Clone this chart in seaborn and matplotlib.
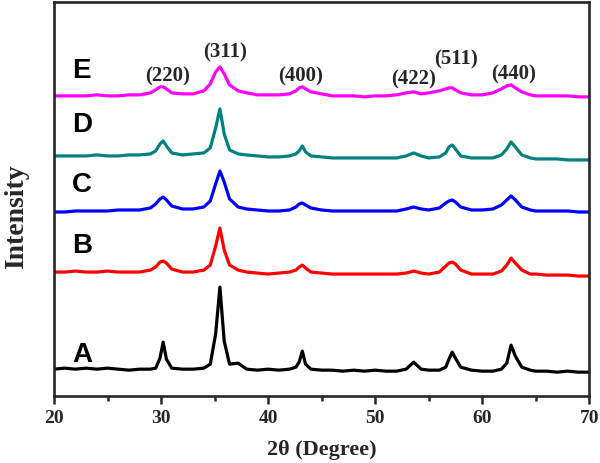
import pandas as pd
import seaborn as sns
import matplotlib.pyplot as plt
import numpy as np
from matplotlib.ticker import MultipleLocator

## 2theta positions (denser around the peaks) ##
theta = [20, 21, 22, 23, 24, 25, 26, 27, 28, 29, 29.5, 29.9, 30.2, 30.5, 31.0,
         32, 33, 34, 34.6, 35.1, 35.5, 35.9, 36.4, 37.2, 38, 39, 40, 41, 42,
         42.6, 42.9, 43.2, 43.5, 44, 45, 46, 47, 48, 49, 50, 51, 52, 52.9, 53.6,
         54.3, 55, 56, 56.6, 56.9, 57.2, 57.5, 58, 59, 60, 61, 61.8, 62.3, 62.7,
         63.1, 63.7, 64.5, 65, 66, 67, 68, 69, 70]

## intensities (a.u., already stacked with offsets) ##
int_A = [27, 28, 27, 28, 27, 28, 27, 26, 27, 27, 28, 38, 54, 37, 28,
         27, 27, 28, 32, 62, 109, 55, 32, 33, 27, 26, 27, 26, 27,
         29, 34, 45, 32, 27, 26, 26, 25, 26, 25, 26, 25, 25, 27, 34,
         27, 26, 26, 29, 37, 44, 38, 29, 26, 25, 25, 27, 33, 51,
         40, 29, 26, 25, 25, 24, 25, 24, 24]
int_B = [124, 124, 125, 124, 124, 125, 124, 124, 124, 126, 129, 134, 135, 133, 127,
         124, 124, 126, 131, 150, 168, 146, 131, 126, 124, 123, 122, 123, 124,
         126, 129, 131, 128, 124, 123, 122, 122, 122, 122, 122, 122, 122, 123, 125,
         123, 122, 124, 130, 133, 134, 132, 126, 122, 122, 122, 125, 131, 138,
         133, 126, 122, 122, 121, 121, 121, 120, 120]
int_C = [184, 184, 185, 185, 185, 185, 186, 186, 186, 188, 192, 197, 199, 196, 190,
         187, 187, 189, 195, 212, 225, 214, 197, 189, 187, 186, 185, 185, 186,
         189, 192, 193, 191, 188, 186, 185, 185, 185, 185, 185, 185, 185, 187, 189,
         187, 186, 188, 193, 195, 196, 194, 189, 186, 186, 187, 191, 196, 200,
         196, 189, 186, 185, 185, 185, 185, 184, 184]
int_D = [240, 240, 240, 240, 241, 240, 240, 241, 241, 242, 245, 252, 255, 250, 243,
         241, 242, 243, 248, 268, 287, 262, 246, 242, 241, 240, 239, 239, 240,
         242, 245, 250, 244, 240, 239, 238, 238, 238, 238, 238, 238, 238, 240, 243,
         240, 238, 239, 243, 249, 251, 247, 240, 238, 238, 238, 241, 247, 254,
         249, 241, 238, 237, 237, 237, 236, 236, 236]
int_E = [300, 300, 300, 300, 301, 300, 300, 301, 301, 303, 306, 309, 309, 307, 303,
         302, 302, 305, 312, 324, 329, 322, 311, 305, 303, 301, 301, 301, 302,
         305, 308, 309, 307, 304, 302, 300, 300, 300, 299, 300, 300, 301, 303, 304,
         302, 303, 305, 307, 308, 308, 306, 303, 301, 301, 303, 307, 310, 311,
         308, 304, 301, 300, 300, 300, 300, 299, 299]

samples = ["A", "B", "C", "D", "E"]
colors = ["black", "#ff0000", "#0000ff", "#008080", "#ff00ff"]
label_y = [42, 151, 212, 272, 326]

hkl = ["(220)", "(311)", "(400)", "(422)", "(511)", "(440)"]
hkl_x = [30.65, 36.0, 43.0, 53.6, 57.6, 62.9]
hkl_y = [320, 344, 320, 317, 337, 322]

df = pd.DataFrame({
    "theta": theta * 5,
    "intensity": int_A + int_B + int_C + int_D + int_E,
    "sample": np.repeat(samples, len(theta)),
})

sns.set_style("ticks")
plt.rcParams["font.family"] = ["Liberation Serif", "DejaVu Serif"]

fig = plt.figure(figsize=(6, 4.64), dpi=100)
ax = fig.add_axes([0.09, 0.144, 0.892, 0.85])

sns.lineplot(data=df, x="theta", y="intensity", hue="sample",
             palette=dict(zip(samples, colors)), linewidth=2.3,
             legend=False, ax=ax, sort=False)

for s, c, y in zip(samples, colors, label_y):
    ax.text(22.6, y, s, fontsize=20, fontweight="bold", family="Liberation Sans",
            ha="center", va="center", color="black")

for t, x, y in zip(hkl, hkl_x, hkl_y):
    ax.text(x, y, t, fontsize=15, fontweight="bold", ha="center", va="center")

ax.set_xlim(20, 70)
ax.set_ylim(0, 394)
ax.xaxis.set_major_locator(MultipleLocator(10))
ax.xaxis.set_minor_locator(MultipleLocator(5))
ax.set_yticks([])
ax.tick_params(axis="x", which="major", direction="out", length=6, width=1.8,
               labelsize=14)
ax.tick_params(axis="x", which="minor", direction="out", length=3.5, width=1.8)
for lbl in ax.get_xticklabels():
    lbl.set_fontweight("bold")
for sp in ax.spines.values():
    sp.set_linewidth(1.9)
    sp.set_visible(True)

ax.set_xlabel("2θ (Degree)", fontsize=16, fontweight="bold")
ax.set_ylabel("Intensity", fontsize=20, fontweight="bold")
ax.xaxis.set_label_coords(0.5, -0.108)
ax.yaxis.set_label_coords(-0.047, 0.457)

plt.savefig("out.png", dpi=100)
